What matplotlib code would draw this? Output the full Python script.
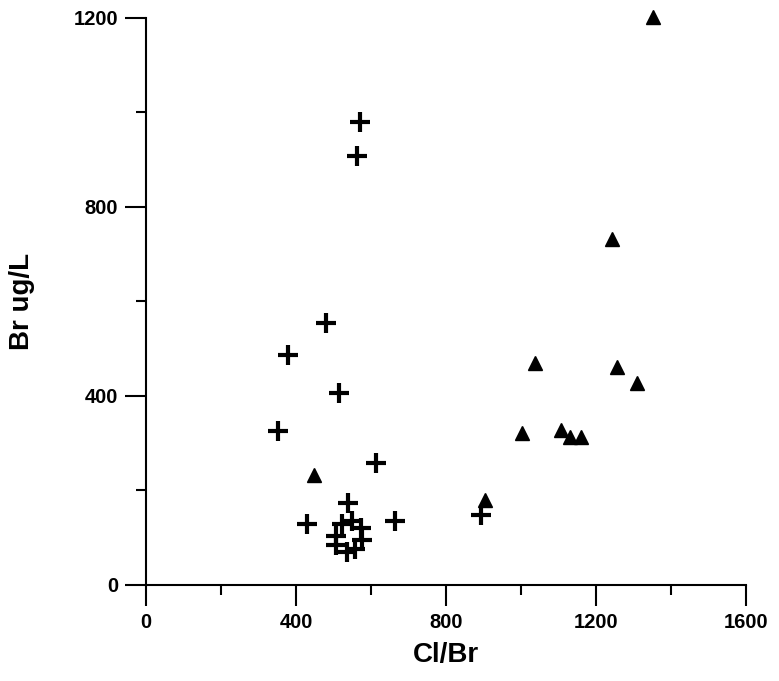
import matplotlib.pyplot as plt
from matplotlib.ticker import MultipleLocator

# ----------------------
# DATA
# ----------------------
cross_clbr = [571, 563, 480, 379, 515, 352, 613, 539, 429, 664, 893,
              507, 523, 549, 573, 576, 557, 536, 507]
cross_br = [980, 908, 554, 487, 406, 326, 258, 174, 129, 136, 148,
            104, 129, 135, 121, 95, 76, 70, 85]

tri_clbr = [1352, 1243, 1037, 1256, 1309, 1003, 1107, 1131, 1160, 904, 448]
tri_br = [1203, 732, 470, 462, 428, 321, 328, 314, 314, 180, 233]

plt.rcParams["font.family"] = ["Liberation Sans", "DejaVu Sans"]
plt.rcParams["font.weight"] = "bold"

fig = plt.figure(figsize=(7.79, 6.81), dpi=100)
ax = fig.add_axes([0.1874, 0.141, 0.7703, 0.8326])

ax.plot(cross_clbr, cross_br, linestyle="none", marker="+", color="black",
        markersize=15, markeredgewidth=3, clip_on=False)
ax.plot(tri_clbr, tri_br, linestyle="none", marker="^", color="black",
        markersize=10, clip_on=False)

ax.set_xlim(0, 1600)
ax.set_ylim(0, 1200)
ax.xaxis.set_major_locator(MultipleLocator(400))
ax.xaxis.set_minor_locator(MultipleLocator(200))
ax.yaxis.set_major_locator(MultipleLocator(400))
ax.yaxis.set_minor_locator(MultipleLocator(200))

for side in ["top", "right"]:
    ax.spines[side].set_visible(False)
for side in ["left", "bottom"]:
    ax.spines[side].set_linewidth(1.5)

ax.tick_params(which="major", length=15, width=1.5, labelsize=14.5, pad=5)
ax.tick_params(which="minor", length=7, width=1.5)
for lbl in ax.get_xticklabels() + ax.get_yticklabels():
    lbl.set_fontweight("bold")

ax.set_xlabel("Cl/Br", fontsize=20, fontweight="bold")
ax.set_ylabel("Br ug/L", fontsize=20, fontweight="bold")
ax.xaxis.set_label_coords(0.5, -0.1)
ax.yaxis.set_label_coords(-0.185, 0.5)

fig.savefig("out.png", dpi=100)
